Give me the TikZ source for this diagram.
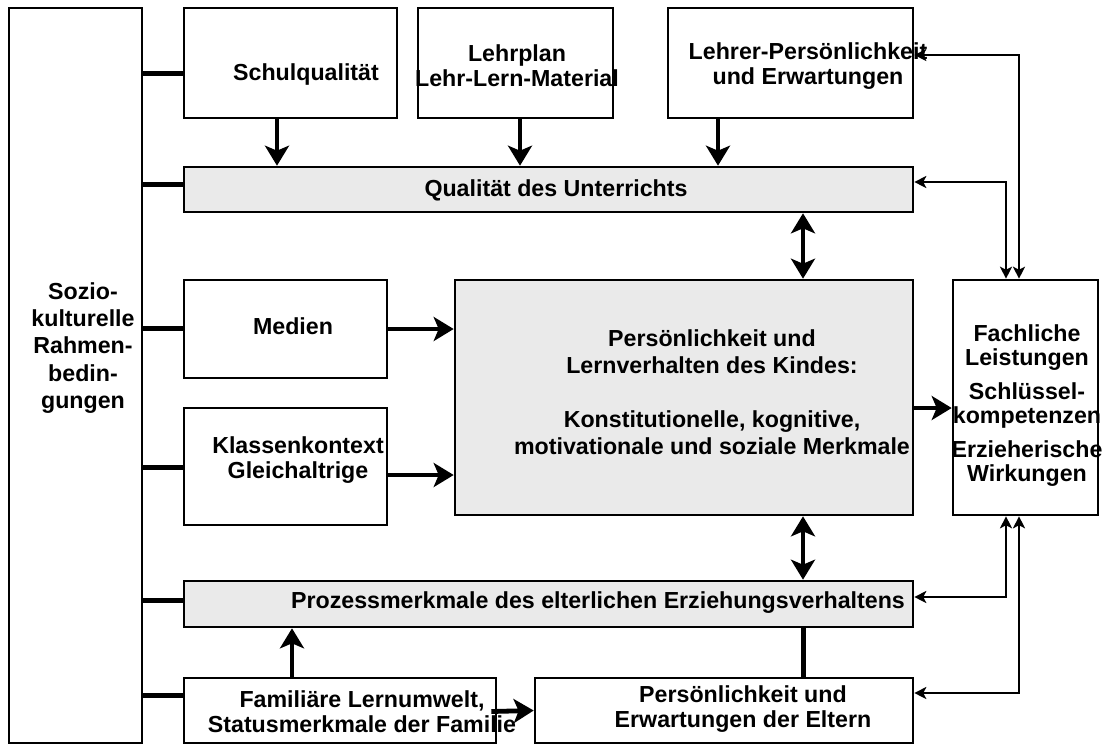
\documentclass[tikz,border=0pt]{standalone}
\usepackage{fontspec}
\setmainfont{Liberation Sans}
\usepackage{xcolor}
\usepackage{tikz}
\usetikzlibrary{arrows.meta, positioning, calc}

\definecolor{boxgray}{RGB}{234,234,234}
\tikzset{
  box/.style={draw, line width=1.3pt, inner sep=0pt},
  graybox/.style={box, fill=boxgray},
  txt/.style={align=center, inner sep=0pt, font=\fontsize{11.6}{12.5}\selectfont\bfseries},
  bigarrow/.style={line width=2.4pt, -{Stealth[length=10pt,width=12pt,inset=2.5pt]}},
  bigboth/.style={line width=2.4pt, {Stealth[length=10pt,width=12pt,inset=2.5pt]}-{Stealth[length=10pt,width=12pt,inset=2.5pt]}},
  stub/.style={line width=2.5pt},
  fb/.style={line width=1pt, {Stealth[length=6pt,width=6pt,inset=1.5pt]}-{Stealth[length=6pt,width=6pt,inset=1.5pt]}}
}

\begin{document}
\begin{tikzpicture}[x=0.5pt, y=-0.5pt]
			\useasboundingbox (0,0) rectangle (1104,745);
			% boxes
			\node[box, minimum width=66.5pt, minimum height=367.5pt] (sozio) at (75.5,375.5) {};
			\node[box, minimum width=106.5pt, minimum height=55pt] (schul) at (290.5,63) {};
			\node[box, minimum width=97.5pt, minimum height=55pt] (lehrplan) at (515.5,63) {};
			\node[box, minimum width=122.5pt, minimum height=55pt] (lehrer) at (790.5,63) {};
			\node[graybox, minimum width=364.5pt, minimum height=22.5pt] (qual) at (548.5,189.5) {};
			\node[box, minimum width=101.5pt, minimum height=49pt] (medien) at (285.5,329) {};
			\node[box, minimum width=101.5pt, minimum height=58.5pt] (klasse) at (285.5,466.5) {};
			\node[graybox, minimum width=229pt, minimum height=117.5pt] (kind) at (684,397.5) {};
			\node[box, minimum width=72.5pt, minimum height=117.5pt] (fach) at (1025.5,397.5) {};
			\node[graybox, minimum width=364.5pt, minimum height=23pt] (prozess) at (548.5,604) {};
			\node[box, minimum width=156pt, minimum height=32.5pt] (famil) at (340,710.5) {};
			\node[box, minimum width=189pt, minimum height=32.5pt] (eltern) at (724,710.5) {};
			% texts
			\node[txt, font=\fontsize{11.6}{13.6}\selectfont\bfseries] (sozio-t) at (83,348) {Sozio-\\kulturelle\\Rahmen-\\bedin-\\gungen};
			\node[txt] (schul-t) at (306,74) {Schulqualität};
			\node[txt] (lehrplan-t) at (517,66) {Lehrplan\\Lehr-Lern-Material};
			\node[txt] (lehrer-t) at (808,66) {Lehrer-Persönlichkeit\\und Erwartungen};
			\node[txt] (qual-t) at (556,190) {Qualität des Unterrichts};
			\node[txt] (medien-t) at (293,326) {Medien};
			\node[txt] (klasse-t) at (298,460) {Klassenkontext\\Gleichaltrige};
			\node[txt, font=\fontsize{11.6}{13.5}\selectfont\bfseries] (kind-t) at (712,392) {Persönlichkeit und\\Lernverhalten des Kindes:\\[13.5pt]Konstitutionelle, kognitive,\\motivationale und soziale Merkmale};
			\node[txt, font=\fontsize{11.6}{12}\selectfont\bfseries] (fach-t) at (1027,406) {Fachliche\\Leistungen\\[5pt]Schlüssel-\\kompetenzen\\[5pt]Erzieherische\\Wirkungen};
			\node[txt] (prozess-t) at (598,603) {Prozessmerkmale des elterlichen Erziehungsverhaltens};
			\node[txt] (famil-t) at (362,712) {Familiäre Lernumwelt,\\Statusmerkmale der Familie};
			\node[txt] (eltern-t) at (743,709) {Persönlichkeit und\\Erwartungen der Eltern};
			% stubs from the left box
			\foreach \n/\dy in {schul/10, qual/-5.5, medien/-1, klasse/0.5, prozess/-4, famil/-15.5} {
				\coordinate (t) at ($(\n.west)+(0,\dy)$);
				\draw[stub] (t) -- (t -| sozio.east);
			}
			% thick arrows
			\coordinate (a1) at ($(schul.south)+(-13.5,0)$);
			\coordinate (a2) at ($(lehrplan.south)+(4.5,0)$);
			\coordinate (a3) at ($(lehrer.south)+(-72.5,0)$);
			\draw[bigarrow] (a1) -- (a1 |- qual.north);
			\draw[bigarrow] (a2) -- (a2 |- qual.north);
			\draw[bigarrow] (a3) -- (a3 |- qual.north);
			\coordinate (q1) at ($(qual.south)+(254.5,0)$);
			\draw[bigboth] (q1) -- (q1 |- kind.north);
			\draw[bigarrow] (medien.east) -- (medien.east -| kind.west);
			\coordinate (a4) at ($(klasse.east)+(0,8.5)$);
			\draw[bigarrow] (a4) -- (a4 -| kind.west);
			\coordinate (a5) at ($(kind.east)+(0,10.5)$);
			\draw[bigarrow] (a5) -- (a5 -| fach.west);
			\coordinate (k2) at ($(kind.south)+(119,0)$);
			\draw[bigboth] (k2) -- (k2 |- prozess.north);
			\coordinate (a6) at ($(famil.north)+(-48,0)$);
			\draw[bigarrow] (a6) -- (a6 |- prozess.south);
			\draw[bigarrow] ($(famil.east)+(-6,1)$) -- (eltern.west);
			\coordinate (e1) at ($(eltern.north)+(79,0)$);
			\draw[stub] (e1) -- (e1 |- prozess.south);
			% feedback to the right box
			\coordinate (l1) at ($(lehrer.east)+(0,-8)$);
			\coordinate (l2) at ($(qual.east)+(0,-7.5)$);
			\coordinate (l3) at ($(prozess.east)+(0,-7)$);
			\coordinate (l4) at ($(eltern.east)+(0,-17.5)$);
			\draw[fb] (l1) -| ($(fach.north)+(-6.5,0)$);
			\draw[fb] (l2) -| ($(fach.north)+(-19.5,0)$);
			\draw[fb] (l3) -| ($(fach.south)+(-19.5,0)$);
			\draw[fb] (l4) -| ($(fach.south)+(-6.5,0)$);
		\end{tikzpicture}
\end{document}
